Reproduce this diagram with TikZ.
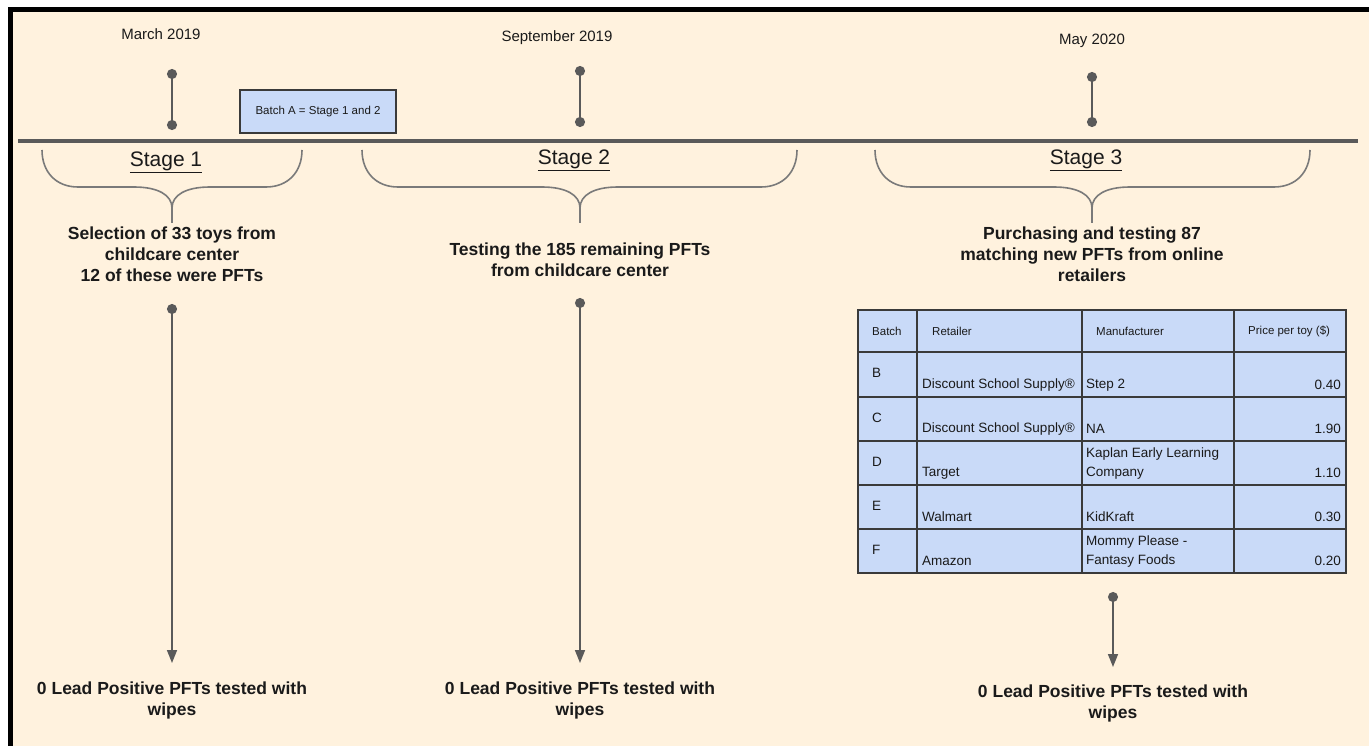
\documentclass[tikz,border=0pt]{standalone}
\usepackage{fontspec}
\setmainfont{Liberation Sans}
\usetikzlibrary{arrows.meta,calc}
\definecolor{bgbeige}{HTML}{FFF2DE}
\definecolor{lineg}{HTML}{5A5A5A}
\definecolor{braceg}{HTML}{7A7A7A}
\definecolor{cellblue}{HTML}{C9DAF8}
\definecolor{gridg}{HTML}{3A3A3A}
\definecolor{txt}{HTML}{1A1A1A}
\newcommand{\stagebrace}[3]{%
  \draw[bracestyle] (#1,150) .. controls (#1,172) and (#1+14,187) .. (#1+36,187)
     -- (#2-38,187) .. controls (#2-14,187) and (#2,195) .. (#2,208) -- (#2,223);
  \draw[bracestyle] (#3,150) .. controls (#3,172) and (#3-14,187) .. (#3-36,187)
     -- (#2+38,187) .. controls (#2+14,187) and (#2,195) .. (#2,208);
}
\newcommand{\ulstage}[1]{\underline{#1}}
\begin{document}
\begin{tikzpicture}[x=1pt,y=-1pt,
  datelbl/.style={font=\fontsize{15}{18}\selectfont, text=txt, inner sep=0},
  stagelbl/.style={font=\fontsize{21}{25}\selectfont, text=txt, inner sep=0},
  boldlbl/.style={font=\bfseries\fontsize{17.5}{21}\selectfont, text=txt, align=center, inner sep=0},
  stem/.style={lineg, line width=2pt, {Circle[length=10pt]}-{Circle[length=10pt]}},
  flow/.style={lineg, line width=1.6pt, {Circle[length=10pt]}-{Triangle[length=13pt,width=10pt]}},
  bracestyle/.style={braceg, line width=1.6pt},
  hdr/.style={font=\fontsize{11.5}{14}\selectfont, text=txt, inner sep=0},
  cell/.style={font=\fontsize{13.5}{19}\selectfont, text=txt, inner sep=0, align=left},
  batchbox/.style={draw=gridg, line width=1.3pt, fill=cellblue, minimum width=156pt, minimum height=43pt, font=\fontsize{11.5}{14}\selectfont, text=txt}
]
\useasboundingbox (0,0) rectangle (1369,746);
\fill[white] (0,0) rectangle (1369,746);
\fill[bgbeige] (10,10) rectangle (1369,746);
\draw[black, line width=5pt] (10,746) -- (10,10) -- (1369,10);

% timeline
\draw[lineg, line width=4pt] (18,141) -- (1358,141);

% dates and stems
\node[datelbl] (d1) at (161,34) {March 2019};
\node[datelbl] (d2) at (557,38) {September 2019};
\node[datelbl] (d3) at (1092,41) {May 2020};
\coordinate (s1a) at (172,69); \coordinate (s1b) at (172,130);
\coordinate (s2a) at (580,66); \coordinate (s2b) at (580,127);
\coordinate (s3a) at (1092,72); \coordinate (s3b) at (1092,127);
\draw[stem] (s1a) -- (s1b);
\draw[stem] (s2a) -- (s2b);
\draw[stem] (s3a) -- (s3b);

\node[batchbox] (batchA) at (318,111.5) {Batch A = Stage 1 and 2};

% stage labels
\node[stagelbl] (st1) at (166,162) {\ulstage{Stage 1}};
\node[stagelbl] (st2) at (574,160) {\ulstage{Stage 2}};
\node[stagelbl] (st3) at (1086,160) {\ulstage{Stage 3}};

% braces
\stagebrace{42}{172}{302}
\stagebrace{362}{580}{797}
\stagebrace{875}{1092}{1310}

% descriptions
\node[boldlbl] (desc1) at (172,254) {Selection of 33 toys from\\childcare center\\12 of these were PFTs};
\node[boldlbl] (desc2) at (580,260) {Testing the 185 remaining PFTs\\from childcare center};
\node[boldlbl] (desc3) at (1092,254) {Purchasing and testing 87\\matching new PFTs from online\\retailers};

% results
\node[boldlbl] (res1) at (172,700.5) {0 Lead Positive PFTs tested with\\wipes};
\node[boldlbl] (res2) at (580,700.5) {0 Lead Positive PFTs tested with\\wipes};
\node[boldlbl] (res3) at (1113,703) {0 Lead Positive PFTs tested with\\wipes};

% flow arrows
\coordinate (f1a) at (172,304); \coordinate (f1b) at (172,663);
\coordinate (f2a) at (580,298); \coordinate (f2b) at (580,663);
\coordinate (f3a) at (1113,592); \coordinate (f3b) at (1113,667);
\draw[flow] (f1a) -- (f1b);
\draw[flow] (f2a) -- (f2b);
\draw[flow] (f3a) -- (f3b);

% table
\fill[cellblue] (858,310) rectangle (1346,573);
\draw[gridg, line width=1.5pt] (858,310) rectangle (1346,573);
\foreach \yy in {352,397,441,485,529} \draw[gridg, line width=1.5pt] (858,\yy) -- (1346,\yy);
\foreach \xx in {917,1082,1234} \draw[gridg, line width=1.5pt] (\xx,310) -- (\xx,573);

\node[hdr, anchor=west] (hb) at (872,331) {Batch};
\node[hdr, anchor=west] (hr) at (932,331) {Retailer};
\node[hdr, anchor=west] (hm) at (1096,331) {Manufacturer};
\node[hdr, anchor=west] (hp) at (1248,331) {Price per toy (\$)};

\foreach \nm/\top/\bot/\ret/\man/\pr/\my in {
  B/352/397/{Discount School Supply®}/{Step 2}/0.40/12,
  C/397/441/{Discount School Supply®}/{NA}/1.90/12,
  D/441/485/{Target}/{Kaplan Early Learning\\Company}/1.10/21,
  E/485/529/{Walmart}/{KidKraft}/0.30/12,
  F/529/573/{Amazon}/{Mommy Please -\\Fantasy Foods}/0.20/21} {
  \node[cell, anchor=west] (b\nm) at (872,\top+21) {\nm};
  \node[cell, anchor=west] (r\nm) at (922,\bot-12) {\ret};
  \node[cell, anchor=west] (m\nm) at (1086,\bot-\my) {\man};
  \node[cell, anchor=east] (p\nm) at (1341,\bot-12) {\pr};
}
\end{tikzpicture}
\end{document}
